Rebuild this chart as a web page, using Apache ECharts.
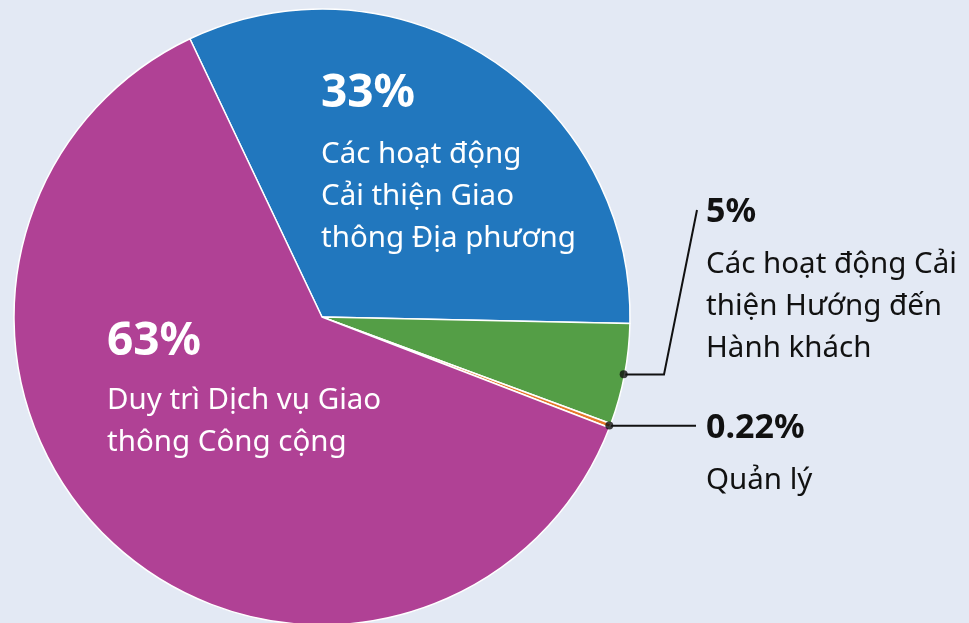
<!DOCTYPE html>
<html><head><meta charset="utf-8">
<script src="https://cdn.jsdelivr.net/npm/echarts@6/dist/echarts.min.js"></script>
<style>html,body{margin:0;padding:0;background:#e3e9f4;}#c{width:969px;height:623px;}</style>
</head><body><div id="c"></div>
<script>
const categories = ['Các hoạt động\nCải thiện Giao\nthông Địa phương', 'Các hoạt động Cải\nthiện Hướng đến\nHành khách', 'Quản lý', 'Duy trì Dịch vụ Giao\nthông Công cộng'];
const values = [32.4, 5.3, 0.22, 62.1];
const pctLabels = ['33%', '5%', '0.22%', '63%'];
const colors = ['#2177be', '#549e46', '#e5782a', '#b04195'];

const CENTER = [322, 317], R = 308, START = 115.4;
const FONT = 'Noto Sans';
// label placement (layout only)
const labelPos = [
  {x: 321, y: 54, inside: true, pSize: 46, pLine: 80},
  {x: 706, y: 180, inside: false, pSize: 34, pLine: 64, line: [664, 210]},
  {x: 706, y: 396, inside: false, pSize: 34, pLine: 64, line: [696, null]},
  {x: 107, y: 304, inside: true, pSize: 46, pLine: 76}
];

const total = values.reduce((a, b) => a + b, 0);
let cum = 0;
const mids = values.map(v => { const m = cum + v / 2; cum += v; return m; });

const chart = echarts.init(document.getElementById('c'), null, {renderer: 'canvas'});
chart.setOption({
  backgroundColor: '#e3e9f4',
  animation: false,
  polar: {center: CENTER, radius: R},
  angleAxis: {type: 'value', min: 0, max: total, startAngle: START, clockwise: true, show: false},
  radiusAxis: {type: 'value', min: 0, max: 1, show: false},
  series: [{
    type: 'pie',
    center: CENTER,
    radius: R,
    startAngle: START,
    clockwise: true,
    avoidLabelOverlap: false,
    itemStyle: {borderColor: '#ffffff', borderWidth: 1.5},
    emphasis: {disabled: true},
    data: values.map((v, i) => {
      const L = labelPos[i];
      const col = L.inside ? '#ffffff' : '#111111';
      return {
        value: v,
        name: categories[i],
        itemStyle: {color: colors[i]},
        label: {
          show: true,
          position: L.inside ? 'inside' : 'outside',
          color: col,
          formatter: () => '{p|' + pctLabels[i] + '}\n{t|' + categories[i].split('\n').join('}\n{t|') + '}',
          rich: {
            p: {fontFamily: FONT, fontSize: L.pSize, fontWeight: 'bold', lineHeight: L.pLine, color: col},
            t: {fontFamily: FONT, fontSize: 29.5, lineHeight: 42, color: col}
          }
        },
        labelLine: {show: !L.inside, length: 10, length2: 10, smooth: false,
                    lineStyle: {color: '#111111', width: 2}}
      };
    }),
    labelLayout: function (params) {
      const L = labelPos[params.dataIndex];
      const out = {x: L.x, y: L.y, align: 'left', verticalAlign: 'top', hideOverlap: false, moveOverlap: false};
      if (!L.inside && params.labelLinePoints) {
        const a = params.labelLinePoints[0];
        const endY = L.line[1] == null ? a[1] : L.line[1];
        const endX = L.line[1] == null ? L.line[0] : 697;
        out.labelLinePoints = [[a[0], a[1]], [L.line[0], a[1]], [endX, endY]];
      }
      return out;
    }
  }, {
    type: 'scatter',
    coordinateSystem: 'polar',
    symbol: 'circle',
    symbolSize: 8,
    itemStyle: {color: '#111111'},
    silent: true,
    data: [[0.997, mids[1]], [0.997, mids[2]]]
  }]
});
</script></body></html>
